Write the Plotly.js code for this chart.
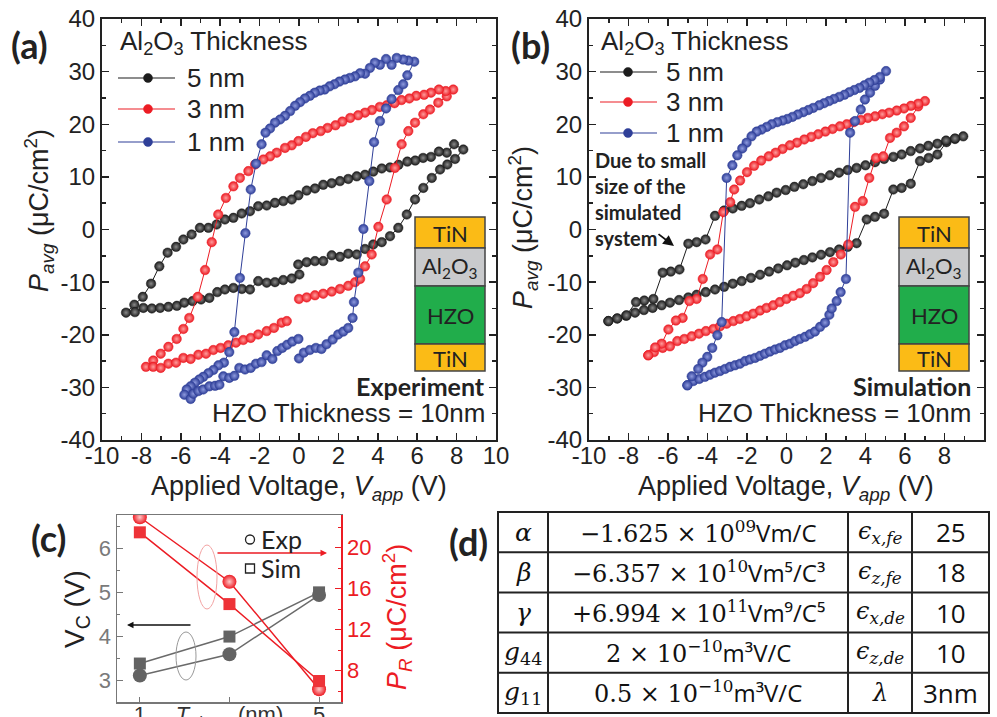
<!DOCTYPE html>
<html><head><meta charset="utf-8">
<script src="https://cdn.plot.ly/plotly-3.0.1.min.js"></script>
<style>body{margin:0;background:#fff}#g{width:997px;height:717px}</style>
</head><body><div id="g"></div>
<script>
// ---------- DATA ----------
// (a) Experiment, Al2O3 thickness series (V, P)
const a5V=[-0.04,0.39,0.81,1.23,1.66,2.08,2.5,2.93,3.35,3.77,4.2,4.62,5.04,5.47,5.89,6.31,6.74,7.16,7.53,7.92,8.34,7.87,7.5,7.1,6.7,6.3,5.9,5.5,5.05,4.62,4.2,3.77,3.35,2.93,2.5,2.08,1.66,1.23,0.81,0.39,-0.03,-0.37,-0.8,-1.22,-1.64,-2.07,-2.49,-2.91,-3.33,-3.76,-4.18,-4.6,-5.03,-5.45,-5.87,-6.24,-6.67,-7.09,-7.51,-7.93,-8.36,-8.78,-8.33,-7.9,-7.47,-7.05,-6.63,-6.2,-5.82,-5.4,-4.97,-4.55,-4.15,-3.76,-3.33,-2.9,-2.49,-2.07,-1.64,-1.22,-0.8,-0.37,0.02];
const a5P=[-6.65,-6.2,-6.0,-6.0,-4.9,-5.2,-4.6,-4.75,-3.7,-2.85,-2.4,-1.27,0.32,2.85,5.7,7.9,9.8,11.4,12.35,13.4,15.2,16.2,14.6,14.8,13.8,13.6,13.1,12.9,12.3,11.8,11.6,11.0,10.4,10.1,9.6,9.2,8.8,8.5,7.8,7.4,6.5,5.7,5.4,5.07,4.56,4.43,3.48,3.04,2.22,1.9,0.95,0.32,0.32,-0.95,-1.9,-3.3,-4.4,-7.0,-10.3,-12.8,-14.3,-15.8,-15.7,-14.9,-15.0,-14.9,-14.7,-14.5,-13.9,-13.6,-13.3,-13.0,-11.9,-11.4,-11.1,-11.3,-11.4,-9.8,-10.1,-10.0,-9.6,-9.3,-8.55];
const a3V=[0,0.39,0.81,1.23,1.66,2.08,2.5,2.85,3.1,3.35,3.69,4.03,4.45,4.87,5.21,5.55,5.89,6.31,6.65,7.07,7.5,7.83,7.45,7.1,6.7,6.35,5.95,5.6,5.2,4.85,4.45,4.1,3.7,3.35,3.0,2.6,2.2,1.85,1.45,1.1,0.7,0.35,-0.03,-0.37,-0.71,-1.13,-1.47,-1.81,-2.23,-2.57,-3.0,-3.33,-3.71,-4.1,-4.43,-4.77,-5.14,-5.57,-5.87,-6.21,-6.63,-7.02,-7.4,-7.77,-7.4,-7.02,-6.63,-6.24,-5.87,-5.5,-5.11,-4.72,-4.35,-3.98,-3.59,-3.2,-2.83,-2.45,-2.07,-1.64,-1.27,-0.88,-0.62];
const a3P=[-13.2,-12.9,-12.5,-12.2,-11.8,-11.3,-10.7,-10.0,-9.4,-7.0,-4.75,0.5,5.7,11.7,16.2,18.7,20.3,21.9,22.8,24.1,25.3,26.6,26.3,26.6,26.0,25.6,25.4,24.9,24.6,24.0,23.6,23.3,22.7,22.2,21.7,21.2,20.5,19.8,19.3,18.7,18.3,17.6,16.8,16.0,15.5,14.6,13.9,13.3,12.35,11.1,9.8,8.2,6.0,2.85,-2.4,-7.7,-12.8,-16.8,-18.9,-20.8,-22.3,-23.6,-24.9,-26.1,-26.1,-26.3,-25.5,-25.3,-24.4,-24.6,-23.8,-23.6,-22.9,-22.5,-22.0,-21.5,-21.0,-20.6,-19.95,-19.3,-18.7,-17.7,-17.4];
const a1V=[0,0.25,0.55,0.86,1.14,1.4,1.71,1.99,2.25,2.5,2.72,2.79,3.01,3.27,3.57,3.81,4.11,4.42,4.7,5.04,5.29,5.5,5.85,5.55,5.29,4.96,4.7,4.42,4.11,3.85,3.6,3.35,3.1,2.84,2.58,2.33,2.05,1.8,1.55,1.3,1.05,0.8,0.55,0.3,0.05,-0.2,-0.45,-0.71,-0.96,-1.22,-1.47,-1.7,-1.9,-2.18,-2.45,-2.72,-3.0,-3.28,-3.54,-3.81,-4.09,-4.35,-4.6,-4.86,-5.06,-5.28,-5.5,-5.7,-5.82,-5.5,-5.36,-5.11,-4.86,-4.55,-4.26,-4.04,-3.84,-3.54,-3.28,-3.03,-2.74,-2.45,-2.18,-1.9,-1.64,-1.35,-1.1,-0.85,-0.6,-0.34,-0.03];
const a1P=[-24.5,-23.4,-22.9,-22.5,-22.7,-21.8,-20.9,-19.95,-19.4,-18.7,-16.8,-13.8,-8.2,0.1,9.2,16.6,20.6,23.0,24.8,26.5,27.6,29.3,31.9,32.1,32.3,32.6,31.3,32.4,31.3,31.7,30.7,29.6,29.7,29.1,28.8,28.5,28.1,27.6,27.2,26.6,26.4,26.0,25.4,24.9,24.2,23.5,22.5,21.6,20.9,20.3,19.2,18.4,16.2,12.5,7.6,-0.7,-9.2,-19.5,-23.3,-25.3,-25.8,-26.7,-27.3,-28.0,-28.5,-29.1,-29.8,-30.4,-31.4,-32.2,-31.2,-30.7,-30.4,-29.8,-29.7,-29.5,-27.9,-28.2,-27.8,-26.3,-26.6,-26.3,-25.5,-25.2,-23.9,-24.6,-23.1,-22.5,-21.9,-21.3,-20.8];
// (b) Simulation
const b5V=[-9.02,-8.57,-8.12,-7.67,-7.22,-6.78,-6.32,-5.9,-5.44,-4.97,-4.55,-4.09,-3.62,-3.16,-2.72,-2.27,-1.8,-1.34,-0.88,-0.42,0.03,0.45,0.88,1.31,1.75,2.2,2.66,3.1,3.55,4.06,4.48,4.94,5.41,5.83,6.29,6.76,7.2,7.64,8.1,8.53,8.95,8.53,8.08,7.64,7.18,6.76,6.29,5.83,5.41,4.94,4.48,4.0,3.55,3.1,2.66,2.2,1.75,1.31,0.85,0.4,-0.04,-0.5,-0.92,-1.38,-1.85,-2.27,-2.72,-3.16,-3.62,-4.1,-4.55,-4.97,-5.42,-5.86,-6.27,-6.74,-7.2,-7.62,-8.1,-8.57,-9.02];
const b5P=[-17.4,-16.9,-16.4,-15.8,-15.3,-14.9,-14.4,-13.9,-13.4,-12.9,-12.4,-11.9,-11.4,-10.9,-10.3,-9.8,-9.2,-8.6,-8.0,-7.4,-6.8,-6.3,-5.8,-5.3,-4.8,-4.3,-3.8,-3.3,-2.6,1.9,2.4,3.0,7.6,7.9,8.7,13.0,13.6,14.25,16.6,17.2,17.7,17.3,16.9,16.3,15.9,15.4,14.9,14.25,13.8,13.4,12.8,12.2,11.7,11.3,10.8,10.3,9.8,9.2,8.6,8.1,7.5,7.0,6.3,5.7,5.0,4.5,4.0,3.6,2.6,-1.9,-2.4,-2.7,-7.6,-8.0,-8.2,-13.2,-13.5,-13.8,-16.3,-16.9,-17.4];
const b3V=[-7.0,-6.71,-6.27,-5.9,-5.53,-5.17,-4.8,-4.43,-4.08,-3.7,-3.37,-3.03,-2.69,-2.36,-2.02,-1.68,-1.34,-1.01,-0.67,-0.34,0,0.34,0.68,1.02,1.35,1.7,2.03,2.37,2.75,3.13,3.47,3.86,4.19,4.53,4.9,5.24,5.58,5.95,6.29,6.67,7.01,6.67,6.3,5.95,5.58,5.2,4.85,4.48,4.12,3.76,3.4,3.05,2.7,2.33,1.97,1.6,1.25,0.9,0.53,0.17,-0.2,-0.55,-0.9,-1.28,-1.64,-2.0,-2.35,-2.65,-2.85,-3.2,-3.5,-3.87,-4.24,-4.55,-4.92,-5.26,-5.6,-5.98,-6.32,-6.65,-7.0];
const b3P=[-23.9,-23.3,-22.5,-22.2,-21.2,-20.8,-20.3,-19.8,-19.3,-18.9,-18.4,-17.9,-17.4,-17.0,-16.5,-16.0,-15.4,-14.9,-14.4,-13.8,-13.2,-12.6,-12.1,-11.3,-10.2,-9.0,-7.7,-6.2,-4.75,-2.85,4.3,5.4,9.8,13.6,13.9,17.4,18.4,19.6,21.2,23.4,24.4,23.9,23.5,23.0,22.6,22.2,21.9,21.5,21.2,20.8,20.4,20.0,19.6,19.1,18.6,18.1,17.6,17.1,16.5,16.0,15.3,14.6,13.9,13.1,12.1,10.9,9.3,7.6,5.2,3.3,-3.8,-4.75,-9.4,-13.2,-13.6,-16.8,-17.3,-19.0,-21.7,-22.4,-23.9];
const b1V=[-5.02,-4.72,-4.42,-4.13,-3.87,-3.62,-3.37,-3.11,-2.86,-2.61,-2.35,-2.1,-1.85,-1.59,-1.34,-1.09,-0.84,-0.58,-0.33,-0.08,0.18,0.43,0.68,0.94,1.19,1.44,1.7,1.95,2.17,2.29,2.54,2.74,3.01,3.22,3.47,3.76,3.97,4.23,4.48,4.73,5.04,4.73,4.45,4.19,3.94,3.69,3.43,3.18,2.93,2.67,2.4,2.15,1.9,1.65,1.35,1.1,0.85,0.57,0.3,0.04,-0.2,-0.47,-0.75,-1.0,-1.26,-1.51,-1.77,-2.02,-2.24,-2.49,-2.74,-3.03,-3.28,-3.5,-3.76,-4.01,-4.26,-4.47,-4.8,-5.02];
const b1P=[-29.6,-28.8,-28.4,-28.0,-27.6,-27.2,-26.9,-26.5,-26.1,-25.8,-25.5,-25.0,-24.7,-24.4,-24.0,-23.6,-23.2,-22.8,-22.5,-22.0,-21.7,-21.2,-20.8,-20.4,-19.9,-19.4,-18.5,-17.7,-16.2,-15.0,-13.6,-11.9,-9.4,18.4,20.6,22.8,24.7,26.0,27.3,28.5,30.1,29.0,28.4,27.9,27.4,26.9,26.5,26.1,25.6,25.2,24.8,24.4,24.0,23.6,23.1,22.7,22.3,21.85,21.4,21.0,20.7,20.4,20.0,19.5,19.0,18.6,17.7,16.5,15.4,14.1,12.2,9.8,-17.6,-20.1,-22.5,-24.2,-25.3,-26.5,-27.9,-29.6];
// (c)
const tAl=[1,3,5];
const vcExp=[3.12,3.6,4.94];
const vcSim=[3.39,4.0,5.0];
const prExp=[22.97,16.68,6.2];
const prSim=[21.5,14.5,7.0];
// (d) table
const tSym=['<i>α</i>','<i>β</i>','<i>γ</i>','<i>g</i><sub>44</sub>','<i>g</i><sub>11</sub>'];
const tMant=['−1.625 × 10','−6.357 × 10','+6.994 × 10','2 × 10','0.5 × 10'];
const tExp=['09','10','11','−10','−10'];
const tUnit=['Vm/C','Vm⁵/C³','Vm⁹/C⁵','m³V/C','m³V/C'];
const tEps=['x,fe','z,fe','x,de','z,de'];
const tVal=['25','18','10','10','3nm'];
const seriesNames=['5 nm','3 nm','1 nm'];
// tick labels
const xTickVals=[-10,-8,-6,-4,-2,0,2,4,6,8,10];
const xTickText=['-10','-8','-6','-4','-2','0','2','4','6','8','10'];
const yTickVals=[-40,-30,-20,-10,0,10,20,30,40];
const yTickText=['-40','-30','-20','-10','0','10','20','30','40'];
const cXTickVals=[1,3,5];
const cXTickText=['1','<i>T</i><sub>Al2O3</sub> (nm)','5'];
const cY1Ticks=[3,4,5,6];
const cY2Ticks=[8,12,16,20];

// ---------- STYLE ----------
const W=997,H=717;
const PX=x=>x/W, PY=y=>1-y/H;
const cBlk='#1c1c1c', cRed='#ec1c24', cBlu='#2f3f98';
const gBlk='#8a8a8a', gRed='#ff9c9c', gBlu='#8e9ade';
const SANS='Liberation Sans, Arial, sans-serif';
const CAL='Lato, sans-serif';
const SER='DejaVu Serif, serif';

function loop(x,y,xa,ya,c,g,name){
  return {x:x,y:y,xaxis:xa,yaxis:ya,type:'scatter',mode:'lines+markers',name:name,showlegend:false,
    line:{color:c,width:1},marker:{size:9.5,color:c,line:{color:c,width:0.5},gradient:{type:'radial',color:g}}};
}
const traces=[
  loop(a5V,a5P,'x','y',cBlk,gBlk,seriesNames[0]),
  loop(a3V,a3P,'x','y',cRed,gRed,seriesNames[1]),
  loop(a1V,a1P,'x','y',cBlu,gBlu,seriesNames[2]),
  loop(b5V,b5P,'x2','y2',cBlk,gBlk,seriesNames[0]),
  loop(b3V,b3P,'x2','y2',cRed,gRed,seriesNames[1]),
  loop(b1V,b1P,'x2','y2',cBlu,gBlu,seriesNames[2]),
  {x:tAl,y:vcExp,xaxis:'x3',yaxis:'y3',mode:'lines+markers',showlegend:false,line:{color:'#6a6a6a',width:1.5},marker:{symbol:'circle',size:14,color:'#636363'}},
  {x:tAl,y:vcSim,xaxis:'x3',yaxis:'y3',mode:'lines+markers',showlegend:false,line:{color:'#6a6a6a',width:1.5},marker:{symbol:'square',size:12,color:'#636363'}},
  {x:tAl,y:prExp,xaxis:'x3',yaxis:'y4',mode:'lines+markers',showlegend:false,line:{color:cRed,width:1.5},marker:{symbol:'circle',size:14,color:cRed,gradient:{type:'radial',color:'#ffc8c8'}}},
  {x:tAl,y:prSim,xaxis:'x3',yaxis:'y4',mode:'lines+markers',showlegend:false,line:{color:cRed,width:1.5},marker:{symbol:'square',size:12,color:'#ee3338'}}
];

function mainX(dom,anchor){return {domain:dom,anchor:anchor,range:[-10,10],tickvals:xTickVals,ticktext:xTickText,ticks:'inside',ticklen:7,tickwidth:1.5,
  minor:{dtick:1,tick0:-10,ticks:'inside',ticklen:4,tickwidth:1.5,tickcolor:'#222'},showline:true,linewidth:2,linecolor:'#222',mirror:'ticks',
  showgrid:false,zeroline:false,tickcolor:'#222',ticklabelstandoff:-7,tickfont:{family:SANS,size:24,color:'#222'},fixedrange:true};}
function mainY(dom,anchor){return {domain:dom,anchor:anchor,range:[-40,40],tickvals:yTickVals,ticktext:yTickText,ticks:'inside',ticklen:7,tickwidth:1.5,
  minor:{dtick:5,tick0:-40,ticks:'inside',ticklen:4,tickwidth:1.5,tickcolor:'#222'},showline:true,linewidth:2,linecolor:'#222',mirror:'ticks',
  showgrid:false,zeroline:false,tickcolor:'#222',tickfont:{family:SANS,size:24,color:'#222'},fixedrange:true};}

const yDom=[PY(440),PY(19)];
const layout={width:W,height:H,margin:{l:0,r:0,t:0,b:0},paper_bgcolor:'#fff',plot_bgcolor:'rgba(0,0,0,0)',showlegend:false,
  xaxis:mainX([PX(102),PX(496)],'y'), yaxis:mainY(yDom,'x'),
  xaxis2:mainX([PX(589),PX(984)],'y2'), yaxis2:mainY(yDom,'x2'),
  xaxis3:{domain:[PX(117),PX(341)],anchor:'y3',range:[0.49,5.49],tickvals:cXTickVals,ticktext:cXTickText,
    ticks:'inside',ticklen:5,tickcolor:'#777',showline:true,linewidth:1.5,linecolor:'#777',mirror:true,showgrid:false,zeroline:false,
    ticklabelstandoff:-8,tickfont:{family:SANS,size:22,color:'#333'},fixedrange:true},
  yaxis3:{domain:[PY(702),PY(515)],anchor:'x3',range:[2.52,6.75],tickvals:cY1Ticks,ticks:'inside',ticklen:6,tickcolor:'#777',
    minor:{dtick:0.5,tick0:0,ticks:'inside',ticklen:3,tickcolor:'#777'},showline:true,linewidth:1.5,linecolor:'#777',showgrid:false,zeroline:false,
    tickfont:{family:SANS,size:22,color:'#7a7a7a'},fixedrange:true},
  yaxis4:{overlaying:'y3',anchor:'x3',side:'right',range:[4.95,23.19],tickvals:cY2Ticks,ticks:'inside',ticklen:6,tickcolor:cRed,
    minor:{dtick:2,tick0:0,ticks:'inside',ticklen:3,tickcolor:cRed},showline:true,linewidth:1.5,linecolor:cRed,showgrid:false,zeroline:false,
    tickfont:{family:SANS,size:22,color:cRed},fixedrange:true},
  shapes:[],annotations:[]
};
const S=layout.shapes, A=layout.annotations;
function txt(x,y,t,o){A.push(Object.assign({xref:'paper',yref:'paper',x:PX(x),y:PY(y),text:t,showarrow:false,xanchor:'center',yanchor:'middle',
  font:{family:SANS,size:26,color:'#222'}},o||{}));}
function rect(x0,y0,x1,y1,fill,lc,lw){S.push({type:'rect',xref:'paper',yref:'paper',x0:PX(x0),x1:PX(x1),y0:PY(y0),y1:PY(y1),fillcolor:fill,line:{color:lc||'#444',width:lw==null?1.5:lw}});}
function line(x0,y0,x1,y1,c,w){S.push({type:'line',xref:'paper',yref:'paper',x0:PX(x0),x1:PX(x1),y0:PY(y0),y1:PY(y1),line:{color:c,width:w}});}
function dot(cx,cy,r,c){S.push({type:'circle',xref:'paper',yref:'paper',x0:PX(cx-r),x1:PX(cx+r),y0:PY(cy+r),y1:PY(cy-r),fillcolor:c,line:{color:c,width:0.5}});}

// panel labels
txt(29,45,'<b>(a)</b>',{font:{family:CAL,size:36,color:'#222'}});
txt(530,45,'<b>(b)</b>',{font:{family:CAL,size:36,color:'#222'}});
txt(48,538,'<b>(c)</b>',{font:{family:CAL,size:36,color:'#222'}});
txt(468,542,'<b>(d)</b>',{font:{family:CAL,size:36,color:'#222'}});

// axis titles a,b
const xt='Applied Voltage, <i>V</i><sub><i>app</i></sub> (V)';
const yt='<i>P</i><sub><i>avg</i></sub> (μC/cm<sup>2</sup>)';
txt(299,488,xt,{font:{family:SANS,size:27,color:'#222'}});
txt(786,488,xt,{font:{family:SANS,size:27,color:'#222'}});
txt(39,211,yt,{textangle:-90,font:{family:SANS,size:27,color:'#222'}});
txt(523,228,yt,{textangle:-90,font:{family:SANS,size:27,color:'#222'}});

// legends
function legend(x0,ty,ys,lx0,lx1,mx,tx){
  txt(x0,ty,'Al<sub>2</sub>O<sub>3</sub> Thickness',{xanchor:'left'});
  const cs=[cBlk,cRed,cBlu];
  for(let i=0;i<3;i++){line(lx0,ys[i],lx1,ys[i],cs[i],1.2);dot(mx,ys[i],4.5,cs[i]);txt(tx,ys[i],seriesNames[i],{xanchor:'left'});}
}
legend(118,43,[78,109,142],118,175,148,185);
legend(599,42,[72,102,133],600,657,628,664);

// insets
function stack(x0,x1){
  rect(x0,217,x1,248,'#fbbb16');rect(x0,248,x1,286,'#c9cacc');rect(x0,286,x1,344,'#21ad4b');rect(x0,344,x1,371,'#fbbb16');
  const cx=(x0+x1)/2, f={family:CAL,size:22,color:'#222'};
  txt(cx,233,'TiN',{font:f});txt(cx,267,'Al<sub>2</sub>O<sub>3</sub>',{font:f});txt(cx,315,'HZO',{font:f});txt(cx,358,'TiN',{font:f});
}
stack(415,485);stack(899,969);
txt(487,386,'<b>Experiment</b>',{xanchor:'right',font:{family:CAL,size:25,color:'#222'}});
txt(487,413,'HZO Thickness = 10nm',{xanchor:'right',font:{family:SANS,size:26,color:'#222'}});
txt(973,386,'<b>Simulation</b>',{xanchor:'right',font:{family:CAL,size:25,color:'#222'}});
txt(973,413,'HZO Thickness = 10nm',{xanchor:'right',font:{family:SANS,size:26,color:'#222'}});
txt(593,199,'<b>Due to small<br>size of the<br>simulated<br>system</b>',{xanchor:'left',align:'left',font:{family:CAL,size:20,color:'#222'}});
A.push({xref:'paper',yref:'paper',x:PX(674),y:PY(246),ax:-17,ay:-13,text:'',showarrow:true,arrowhead:2,arrowsize:1.2,arrowwidth:1.8,arrowcolor:'#111'});

// (c) extras
txt(76,609,'V<sub>C</sub> (V)',{textangle:-90,font:{family:SANS,size:28,color:'#222'}});
txt(397,617,'<i>P</i><sub><i>R</i></sub> (μC/cm<sup>2</sup>)',{textangle:-90,font:{family:SANS,size:27,color:cRed}});
S.push({type:'circle',xref:'paper',yref:'paper',x0:PX(197),x1:PX(217),y0:PY(609),y1:PY(545),line:{color:'#f3a3a3',width:1}});
S.push({type:'circle',xref:'paper',yref:'paper',x0:PX(176),x1:PX(196),y0:PY(680),y1:PY(632),line:{color:'#999',width:1}});
A.push({xref:'paper',yref:'paper',x:PX(327),y:PY(553),ax:-111,ay:0,text:'',showarrow:true,arrowhead:2,arrowsize:1,arrowwidth:1.3,arrowcolor:cRed});
A.push({xref:'paper',yref:'paper',x:PX(127),y:PY(625),ax:65,ay:0,text:'',showarrow:true,arrowhead:2,arrowsize:1,arrowwidth:1.3,arrowcolor:'#111'});
S.push({type:'circle',xref:'paper',yref:'paper',x0:PX(245.5),x1:PX(254.5),y0:PY(544),y1:PY(535),line:{color:'#222',width:1.3}});
S.push({type:'rect',xref:'paper',yref:'paper',x0:PX(245.5),x1:PX(254.5),y0:PY(573),y1:PY(564),line:{color:'#222',width:1.3}});
txt(259,539,'Exp',{xanchor:'left',font:{family:CAL,size:25,color:'#222'}});
txt(259,568,'Sim',{xanchor:'left',font:{family:CAL,size:25,color:'#222'}});

// (d) table
const tx0=498,tx1=989,ty0=512,ty1=713,cols=[548,848,912];
const rowH=(ty1-ty0)/5;
rect(tx0,ty0,tx1,ty1,'rgba(0,0,0,0)','#222',2);
cols.forEach(c=>line(c,ty0,c,ty1,'#222',2));
for(let i=1;i<5;i++) line(tx0,ty0+i*rowH,tx1,ty0+i*rowH,'#222',2);
const cc=[(tx0+cols[0])/2,(cols[0]+cols[1])/2,(cols[1]+cols[2])/2,(cols[2]+tx1)/2];
for(let i=0;i<5;i++){
  const cy=ty0+rowH*(i+0.5);
  txt(cc[0],cy,tSym[i],{font:{family:SER,size:25,color:'#111'}});
  txt(cc[1],cy,tMant[i]+'<sup>'+tExp[i]+'</sup><span style="font-family:Open Sans">'+tUnit[i]+'</span>',{font:{family:SER,size:24,color:'#111'}});
  txt(cc[2],cy,i<4?'<i>ϵ</i><sub><i>'+tEps[i]+'</i></sub>':'<i>λ</i>',{font:{family:SER,size:24,color:'#111'}});
  txt(cc[3],cy,tVal[i],{font:{family:'Open Sans',size:26,color:'#111'}});
}

Plotly.newPlot('g',traces,layout,{staticPlot:true});
</script></body></html>
